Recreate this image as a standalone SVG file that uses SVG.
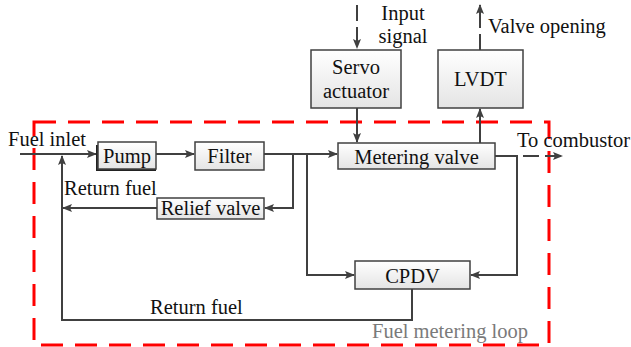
<svg xmlns="http://www.w3.org/2000/svg" width="631" height="347" viewBox="0 0 631 347">
<defs>
<linearGradient id="g" x1="0" y1="0" x2="0" y2="1"><stop offset="0" stop-color="#ffffff"/><stop offset="1" stop-color="#e4e4e4"/></linearGradient>
<marker id="ah" markerWidth="10" markerHeight="8" refX="9" refY="4" orient="auto" markerUnits="userSpaceOnUse"><path d="M0,0 L10,4 L0,8 L2,4 Z" fill="#404040"/></marker>
</defs>
<style>
.box{fill:url(#g);stroke:#404040;stroke-width:1.5}
.t{font-family:"Liberation Serif",serif;font-size:20.5px;fill:#111}
.c{stroke:#404040;stroke-width:2;fill:none}
.d{stroke:#404040;stroke-width:2;fill:none;stroke-dasharray:16 6}
</style>
<rect x="34" y="122" width="515" height="223" fill="none" stroke="#ff0000" stroke-width="3" stroke-dasharray="22 12"/>
<g id="connectors">
<path class="c" d="M20,154 H96" marker-end="url(#ah)"/>
<path class="c" d="M156,154 H194" marker-end="url(#ah)"/>
<path class="c" d="M264,154 H337" marker-end="url(#ah)"/>
<path class="c" d="M293,154 V208 H265" marker-end="url(#ah)"/>
<path class="c" d="M307,154 V275 H354" marker-end="url(#ah)"/>
<path class="c" d="M157,208 H63" marker-end="url(#ah)"/>
<path class="c" d="M412,289 V320 H62 V156" marker-end="url(#ah)"/>
<path class="c" d="M495,156 H517 V275 H471" marker-end="url(#ah)"/>
<path class="d" d="M523,156 H562" marker-end="url(#ah)" stroke-dasharray="14 6"/>
<path class="c" d="M357,108 V142" marker-end="url(#ah)"/>
<path class="d" d="M357,5 V48" marker-end="url(#ah)"/>
<path class="c" d="M480,143 V109" marker-end="url(#ah)"/>
<path class="d" d="M480,50 V5" marker-end="url(#ah)" stroke-dasharray="18 10"/>
</g>
<g id="pump"><rect x="96" y="145" width="60" height="26" fill="#222"/><rect class="box" x="98" y="142" width="58" height="27"/><text class="t" x="127" y="163" text-anchor="middle">Pump</text></g>
<g id="filter"><rect class="box" x="195" y="142" width="69" height="28" stroke-width="2"/><text class="t" x="229.5" y="163" text-anchor="middle">Filter</text></g>
<g id="relief"><rect class="box" x="157" y="198" width="107" height="21"/><text class="t" x="210.5" y="214.5" text-anchor="middle">Relief valve</text></g>
<g id="servo"><rect class="box" x="311" y="50" width="90" height="58"/><text class="t" x="356" y="74" text-anchor="middle">Servo</text><text class="t" x="356" y="98" text-anchor="middle">actuator</text></g>
<g id="lvdt"><rect class="box" x="438" y="50" width="85" height="58"/><text class="t" x="480.5" y="86" text-anchor="middle">LVDT</text></g>
<g id="metering"><rect class="box" x="338" y="143" width="157" height="26"/><text class="t" x="416.5" y="163.5" text-anchor="middle">Metering valve</text></g>
<g id="cpdv"><rect class="box" x="355" y="261" width="115" height="28"/><text class="t" x="412.5" y="283" text-anchor="middle">CPDV</text></g>
<g id="labels">
<text class="t" x="403" y="20" text-anchor="middle">Input</text>
<text class="t" x="403" y="43" text-anchor="middle">signal</text>
<text class="t" x="488" y="33">Valve opening</text>
<text class="t" x="517" y="147">To combustor</text>
<text class="t" x="8" y="146">Fuel inlet</text>
<text class="t" x="64" y="195">Return fuel</text>
<text class="t" x="150" y="314">Return fuel</text>
<text class="t" x="372" y="338" style="fill:#7a7a7a">Fuel metering loop</text>
</g>
</svg>
